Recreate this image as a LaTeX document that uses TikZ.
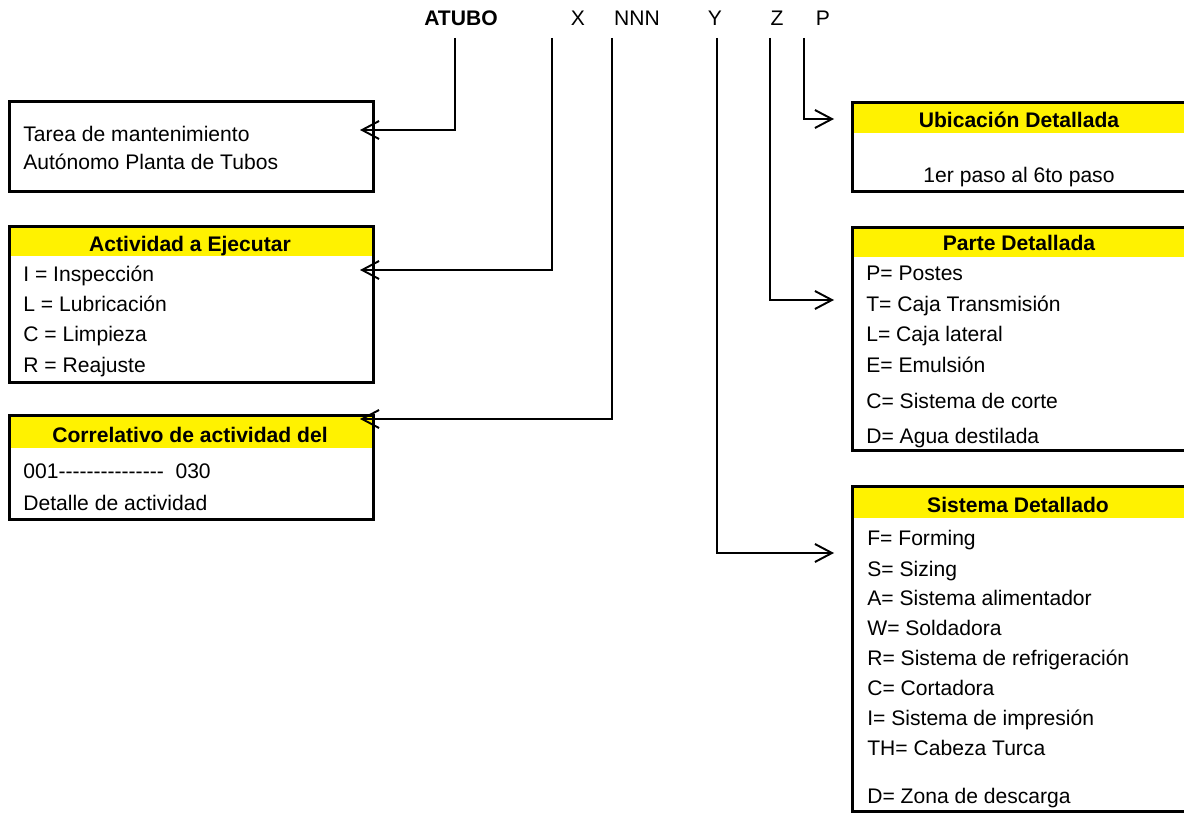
\documentclass[tikz,border=0pt]{standalone}
\usepackage{fontspec}
\setmainfont{Liberation Sans}[Ligatures=NoCommon]
\usetikzlibrary{arrows.meta}
\newcommand\hyphenrun{-{}-{}-{}-{}-{}-{}-{}-{}-{}-{}-{}-{}-{}-{}-}
\begin{document}
\begin{tikzpicture}[x=0.02cm,y=-0.02cm,
  every node/.style={font=\fontsize{12}{14}\selectfont, inner sep=0pt},
  frame/.style={draw, line width=1.6pt, anchor=north west},
  band/.style={fill=yellow, anchor=north west, minimum width=#1},
  head/.style={font=\fontsize{12}{14}\selectfont\bfseries, anchor=base},
  item/.style={anchor=base west},
  code/.style={anchor=base},
  conn/.style={line width=1.1pt, -{Straight Barb[length=0.34cm,width=0.36cm,line width=1.1pt]}}
]
\useasboundingbox (0,0) rectangle (1184,814);

% code fields along the top
\node[code, font=\fontsize{12}{14}\selectfont\bfseries] (fA) at (461,26) {ATUBO};
\node[code] (fX) at (578,26) {X};
\node[code] (fN) at (637,26) {NNN};
\node[code] (fY) at (715,26) {Y};
\node[code] (fZ) at (777,26) {Z};
\node[code] (fP) at (823,26) {P};

% left column
\node[frame, minimum width=7.28cm, minimum height=1.8cm] (b1) at (8,100) {};
\node[item] (b1a) at (23,142) {Tarea de mantenimiento};
\node[item] (b1b) at (23,170) {Autónomo Planta de Tubos};

\node[band=7.28cm, minimum height=0.62cm] (h2) at (8,225) {};
\node[frame, minimum width=7.28cm, minimum height=3.12cm] (b2) at (8,225) {};
\node[head] (t2) at (190,252) {Actividad a Ejecutar};
\node[item] (b2a) at (23,282) {I = Inspección};
\node[item] (b2b) at (23,312) {L = Lubricación};
\node[item] (b2c) at (23,342) {C = Limpieza};
\node[item] (b2d) at (23,373) {R = Reajuste};

\node[band=7.28cm, minimum height=0.68cm] (h3) at (8,414) {};
\node[frame, minimum width=7.28cm, minimum height=2.08cm] (b3) at (8,414) {};
\node[head] (t3) at (190,442) {Correlativo de actividad del};
\node[item] (b3a) at (23,478) {001\hyphenrun\ \ 030};
\node[item] (b3b) at (23,510) {Detalle de actividad};

% right column
\node[band=6.74cm, minimum height=0.64cm] (h4) at (851,101) {};
\node[frame, minimum width=6.74cm, minimum height=1.78cm] (b4) at (851,101) {};
\node[head] (t4) at (1019,128) {Ubicación Detallada};
\node[code] (b4a) at (1019,183) {1er paso al 6to paso};

\node[band=6.74cm, minimum height=0.62cm] (h5) at (851,226) {};
\node[frame, minimum width=6.74cm, minimum height=4.46cm] (b5) at (851,226) {};
\node[head] (t5) at (1019,251) {Parte Detallada};
\node[item] (b5a) at (866,281) {P= Postes};
\node[item] (b5b) at (866,312) {T= Caja Transmisión};
\node[item] (b5c) at (866,342) {L= Caja lateral};
\node[item] (b5d) at (866,373) {E= Emulsión};
\node[item] (b5e) at (866,408) {C= Sistema de corte};
\node[item] (b5f) at (866,443) {D= Agua destilada};

\node[band=6.74cm, minimum height=0.66cm] (h6) at (851,485) {};
\node[frame, minimum width=6.74cm, minimum height=6.5cm] (b6) at (851,485) {};
\node[head] (t6) at (1018,512) {Sistema Detallado};
\node[item] (b6a) at (867,545) {F= Forming};
\node[item] (b6b) at (867,576) {S= Sizing};
\node[item] (b6c) at (867,605) {A= Sistema alimentador};
\node[item] (b6d) at (867,635) {W= Soldadora};
\node[item] (b6e) at (867,665) {R= Sistema de refrigeración};
\node[item] (b6f) at (867,695) {C= Cortadora};
\node[item] (b6g) at (867,725) {I= Sistema de impresión};
\node[item] (b6h) at (867,755) {TH= Cabeza Turca};
\node[item] (b6i) at (867,803) {D= Zona de descarga};

% leader lines from each field to its legend
\coordinate (sA) at (455,38);  \coordinate (eA) at (360,130);
\coordinate (sX) at (552,38);  \coordinate (eX) at (360,270);
\coordinate (sN) at (612,38);  \coordinate (eN) at (360,419);
\coordinate (sY) at (717,38);  \coordinate (eY) at (834,553);
\coordinate (sZ) at (770,38);  \coordinate (eZ) at (834,300);
\coordinate (sP) at (804,38);  \coordinate (eP) at (834,119);

\draw[conn] (sA) |- (eA);
\draw[conn] (sX) |- (eX);
\draw[conn] (sN) |- (eN);
\draw[conn] (sY) |- (eY);
\draw[conn] (sZ) |- (eZ);
\draw[conn] (sP) |- (eP);
\end{tikzpicture}
\end{document}
